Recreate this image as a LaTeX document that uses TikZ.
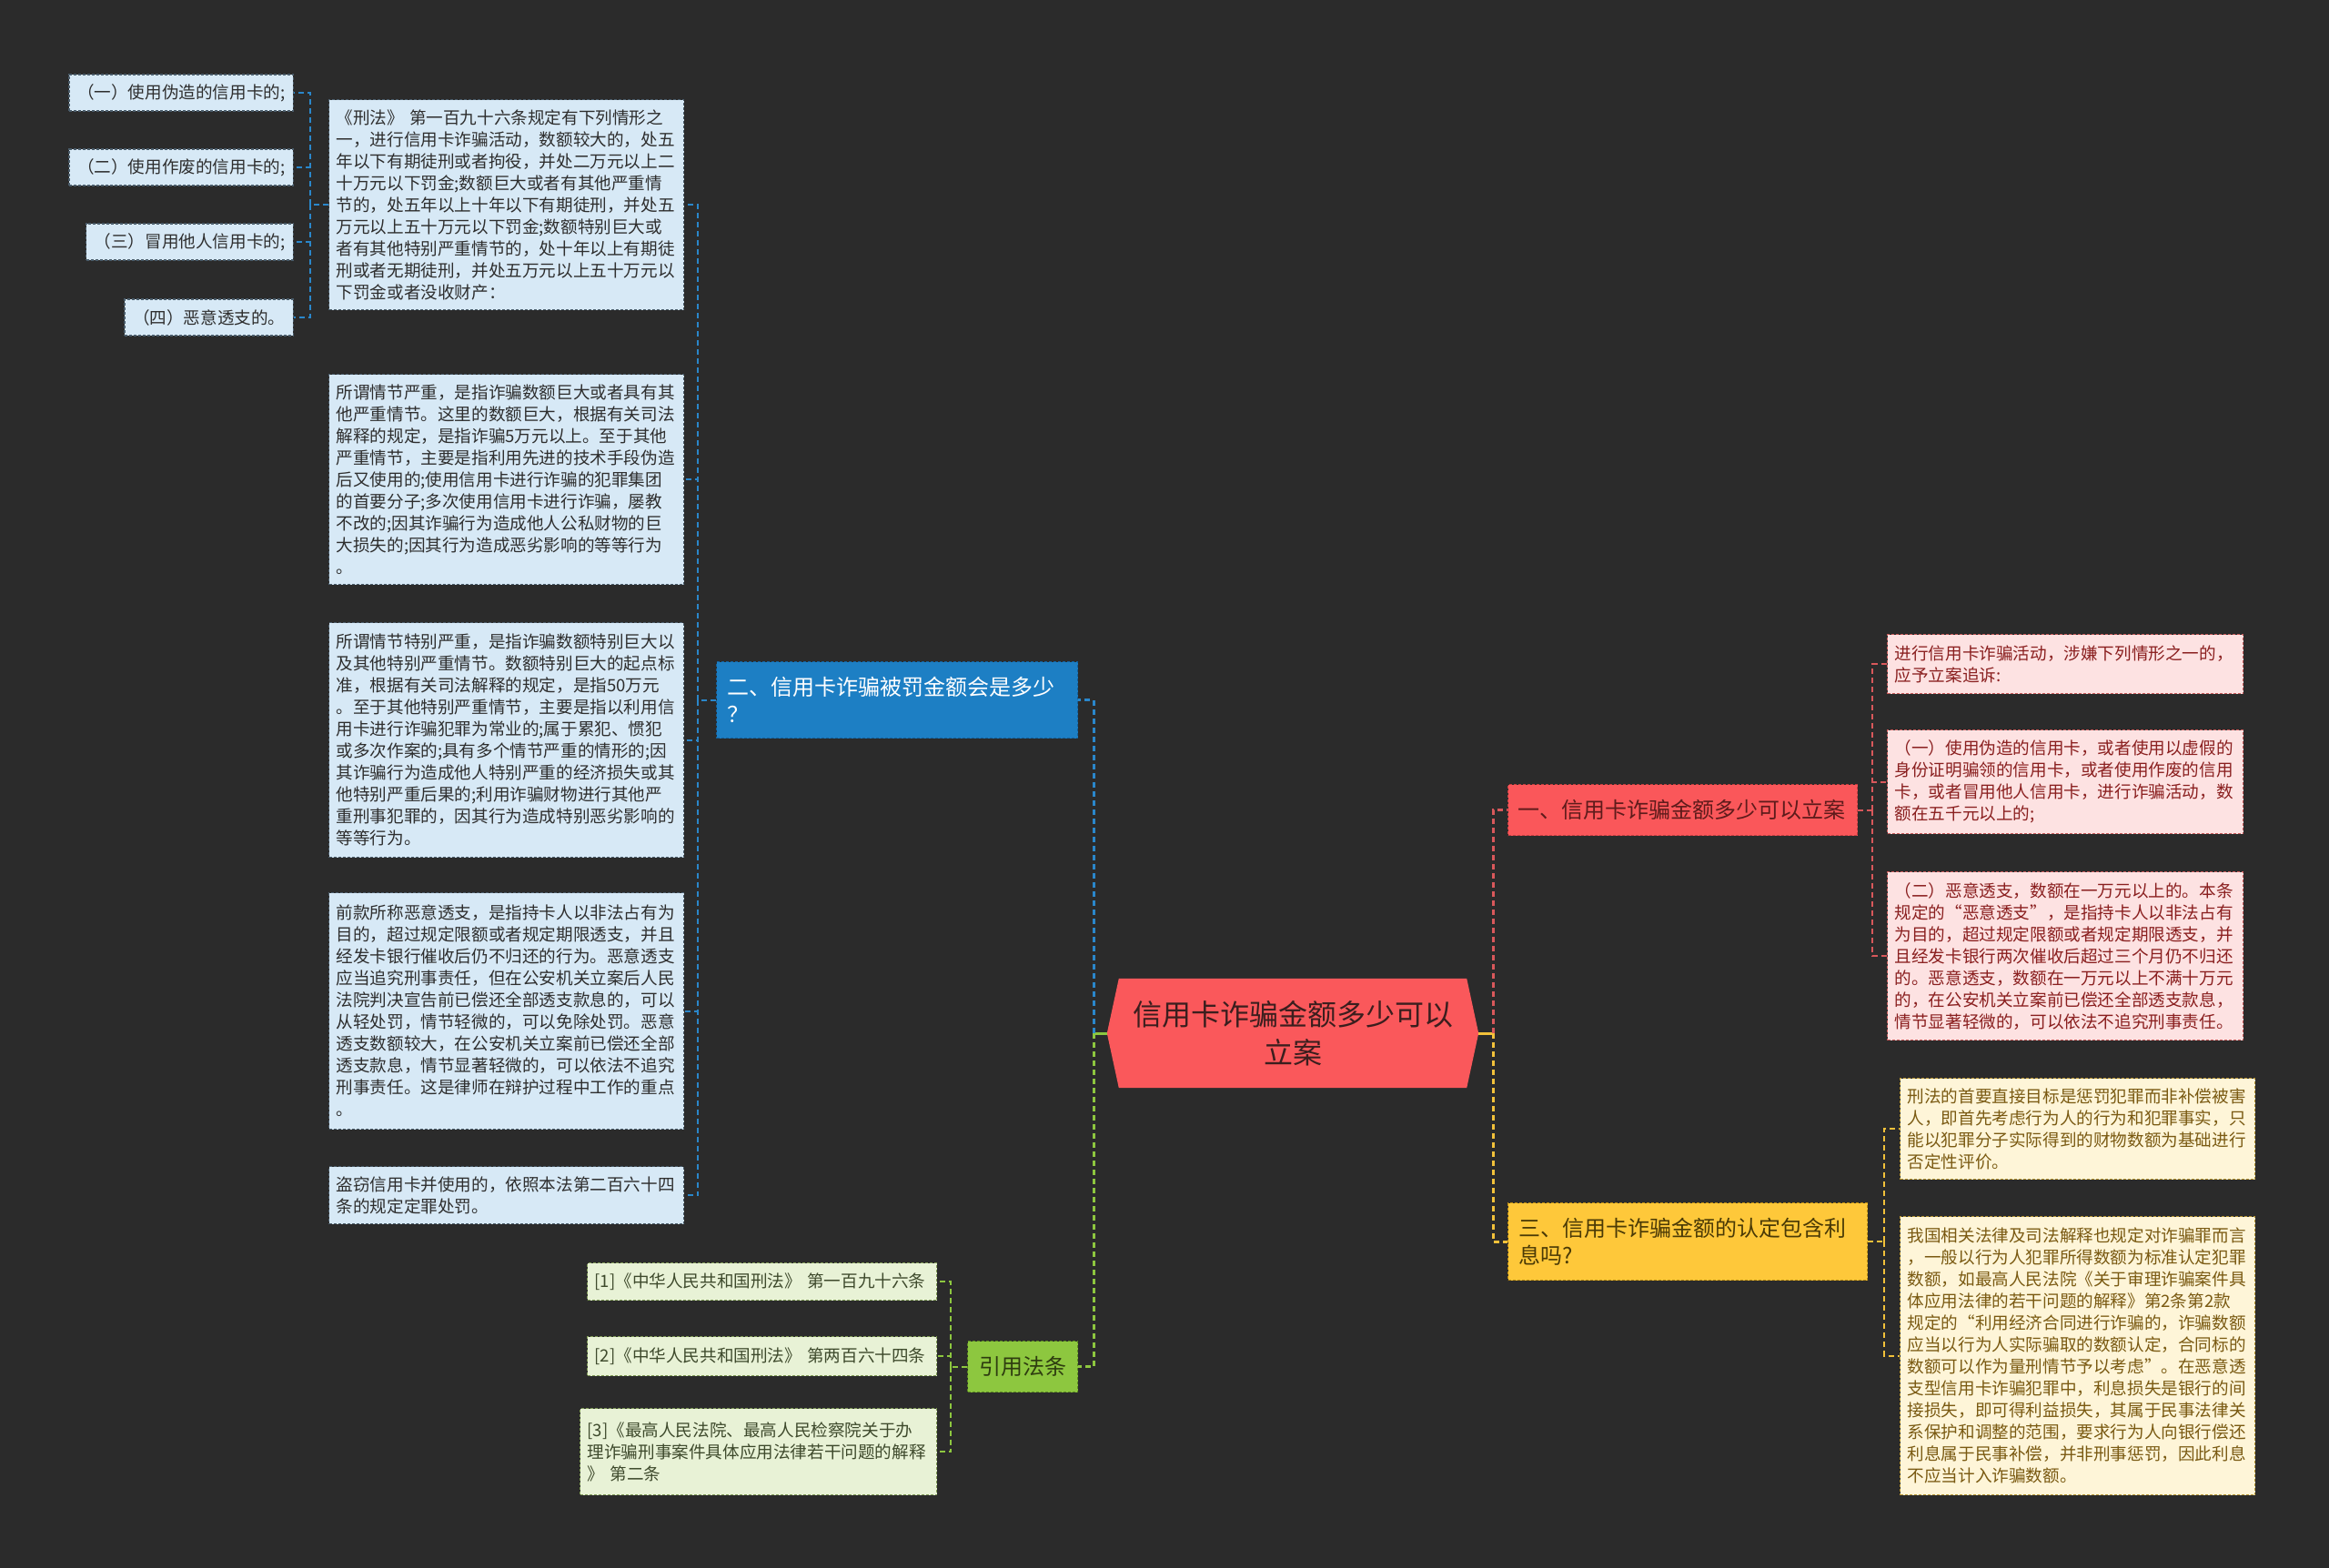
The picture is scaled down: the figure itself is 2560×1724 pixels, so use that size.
\documentclass[tikz,border=0pt]{standalone}
\usepackage{fontspec}
\setmainfont{Noto Sans CJK SC}
\usetikzlibrary{calc}
\pgfdeclarelayer{bg}
\pgfsetlayers{bg,main}
\definecolor{bgc}{HTML}{2B2B2B}
\definecolor{lbfill}{HTML}{D7E9F6}
\definecolor{lbline}{HTML}{4A5C6A}
\definecolor{lbtext}{HTML}{2E2E2E}
\definecolor{pkfill}{HTML}{FDE2E2}
\definecolor{pkline}{HTML}{C85A5A}
\definecolor{pktext}{HTML}{8A1F1F}
\definecolor{crfill}{HTML}{FEF5D8}
\definecolor{crline}{HTML}{B89632}
\definecolor{crtext}{HTML}{7A5A12}
\definecolor{gnfill}{HTML}{E8F2D6}
\definecolor{gnline}{HTML}{7F9A55}
\definecolor{gntext}{HTML}{3E4A2C}
\definecolor{bbfill}{HTML}{1D7FC4}
\definecolor{bbline}{HTML}{15609A}
\definecolor{rbfill}{HTML}{FA575A}
\definecolor{rbline}{HTML}{C43E41}
\definecolor{rbtext}{HTML}{5E1B1B}
\definecolor{ybfill}{HTML}{FEC83A}
\definecolor{ybline}{HTML}{B88A10}
\definecolor{ybtext}{HTML}{4A3A06}
\definecolor{gbfill}{HTML}{8DC73F}
\definecolor{gbline}{HTML}{5C8A22}
\definecolor{gbtext}{HTML}{2E3C10}
\definecolor{cfill}{HTML}{FA585B}
\definecolor{ctext}{HTML}{3B1E1E}
\definecolor{cblue}{HTML}{2A87CB}
\definecolor{cgreen}{HTML}{8DC73F}
\definecolor{cred}{HTML}{D9585B}
\definecolor{cyellow}{HTML}{F2C13A}
\tikzset{
  leaf/.style={font=\fontsize{18.6}{24}\selectfont, align=left, inner xsep=8pt, inner ysep=0pt,
    anchor=north west, line width=1.2pt, dash pattern=on 3pt off 2pt},
  lbbox/.style={leaf, draw=lbline, fill=lbfill, text=lbtext},
  pkbox/.style={leaf, draw=pkline, fill=pkfill, text=pktext},
  crbox/.style={leaf, draw=crline, fill=crfill, text=crtext},
  gnbox/.style={leaf, draw=gnline, fill=gnfill, text=gntext},
  branch/.style={font=\fontsize{24}{30}\selectfont, align=left, inner xsep=12pt, inner ysep=0pt,
    anchor=north west, line width=1.2pt, dash pattern=on 3pt off 2pt},
  trunk/.style={line width=3pt, dash pattern=on 6pt off 4pt},
  brk/.style={line width=2pt, dash pattern=on 6pt off 4pt},
}
\begin{document}
\begin{tikzpicture}[x=1pt,y=-1pt]
\useasboundingbox (0,0) rectangle (2560,1724);

% ---------- central ----------
\node[font=\fontsize{32}{42}\selectfont, text=ctext, align=center, minimum width=408pt,
  minimum height=120pt, inner sep=0pt] (c) at (1421,1136) {信用卡诈骗金额多少可以\\立案};
\begin{pgfonlayer}{bg}
\fill[bgc] (0,0) rectangle (2560,1724);
\fill[cfill] (c.west) -- ([xshift=13pt]c.north west) -- ([xshift=-13pt]c.north east) -- (c.east)
  -- ([xshift=-13pt]c.south east) -- ([xshift=13pt]c.south west) -- cycle;
\end{pgfonlayer}

% ---------- branches ----------
\node[branch, draw=bbline, fill=bbfill, text=white, text width=373pt, minimum height=84pt] (b2) at (787,727)
  {二、信用卡诈骗被罚金额会是多少\\？};
\node[branch, draw=gbline, fill=gbfill, text=gbtext, text width=97pt, minimum height=56pt, align=center] (g) at (1063,1474)
  {引用法条};
\node[branch, draw=rbline, fill=rbfill, text=rbtext, inner xsep=11pt, text width=362pt, minimum height=56pt] (b1) at (1657,862)
  {一、信用卡诈骗金额多少可以立案};
\node[branch, draw=ybline, fill=ybfill, text=ybtext, text width=371pt, minimum height=85pt] (b3) at (1657,1322)
  {三、信用卡诈骗金额的认定包含利\\息吗?};

% ---------- blue branch children ----------
\node[lbbox, text width=374pt, minimum height=231pt] (A) at (361,109)
  {《刑法》 第一百九十六条规定有下列情形之\\
   一，进行信用卡诈骗活动，数额较大的，处五\\
   年以下有期徒刑或者拘役，并处二万元以上二\\
   十万元以下罚金;数额巨大或者有其他严重情\\
   节的，处五年以上十年以下有期徒刑，并处五\\
   万元以上五十万元以下罚金;数额特别巨大或\\
   者有其他特别严重情节的，处十年以上有期徒\\
   刑或者无期徒刑，并处五万元以上五十万元以\\
   下罚金或者没收财产：};
\node[lbbox, text width=374pt, minimum height=231pt] (B) at (361,411)
  {所谓情节严重，是指诈骗数额巨大或者具有其\\
   他严重情节。这里的数额巨大，根据有关司法\\
   解释的规定，是指诈骗5万元以上。至于其他\\
   严重情节，主要是指利用先进的技术手段伪造\\
   后又使用的;使用信用卡进行诈骗的犯罪集团\\
   的首要分子;多次使用信用卡进行诈骗，屡教\\
   不改的;因其诈骗行为造成他人公私财物的巨\\
   大损失的;因其行为造成恶劣影响的等等行为\\
   。};
\node[lbbox, text width=374pt, minimum height=258pt] (C) at (361,684)
  {所谓情节特别严重，是指诈骗数额特别巨大以\\
   及其他特别严重情节。数额特别巨大的起点标\\
   准，根据有关司法解释的规定，是指50万元\\
   。至于其他特别严重情节，主要是指以利用信\\
   用卡进行诈骗犯罪为常业的;属于累犯、惯犯\\
   或多次作案的;具有多个情节严重的情形的;因\\
   其诈骗行为造成他人特别严重的经济损失或其\\
   他特别严重后果的;利用诈骗财物进行其他严\\
   重刑事犯罪的，因其行为造成特别恶劣影响的\\
   等等行为。};
\node[lbbox, text width=374pt, minimum height=260pt] (D) at (361,981)
  {前款所称恶意透支，是指持卡人以非法占有为\\
   目的，超过规定限额或者规定期限透支，并且\\
   经发卡银行催收后仍不归还的行为。恶意透支\\
   应当追究刑事责任，但在公安机关立案后人民\\
   法院判决宣告前已偿还全部透支款息的，可以\\
   从轻处罚，情节轻微的，可以免除处罚。恶意\\
   透支数额较大，在公安机关立案前已偿还全部\\
   透支款息，情节显著轻微的，可以依法不追究\\
   刑事责任。这是律师在辩护过程中工作的重点\\
   。};
\node[lbbox, text width=374pt, minimum height=63pt] (E) at (361,1282)
  {盗窃信用卡并使用的，依照本法第二百六十四\\
   条的规定定罪处罚。};

% ---------- items of A ----------
\node[lbbox, anchor=east, minimum height=40pt, inner xsep=9pt] (s1) at (323,102) {（一）使用伪造的信用卡的;};
\node[lbbox, anchor=east, minimum height=40pt, inner xsep=9pt] (s2) at (323,184) {（二）使用作废的信用卡的;};
\node[lbbox, anchor=east, minimum height=40pt, inner xsep=9pt] (s3) at (323,266) {（三）冒用他人信用卡的;};
\node[lbbox, anchor=east, minimum height=40pt, inner xsep=9pt] (s4) at (323,349) {（四）恶意透支的。};

% ---------- green children ----------
\node[gnbox, text width=368pt, minimum height=41pt] (G1) at (645,1388)
  {[1]《中华人民共和国刑法》 第一百九十六条};
\node[gnbox, text width=368pt, minimum height=43pt] (G2) at (645,1469)
  {[2]《中华人民共和国刑法》 第两百六十四条};
\node[gnbox, text width=376pt, minimum height=95pt] (G3) at (637,1548)
  {[3]《最高人民法院、最高人民检察院关于办\\
   理诈骗刑事案件具体应用法律若干问题的解释\\
   》 第二条};

% ---------- red children ----------
\node[pkbox, text width=375pt, minimum height=65pt] (R1) at (2074,697)
  {进行信用卡诈骗活动，涉嫌下列情形之一的，\\
   应予立案追诉:};
\node[pkbox, text width=375pt, minimum height=114pt] (R2) at (2074,802)
  {（一）使用伪造的信用卡，或者使用以虚假的\\
   身份证明骗领的信用卡，或者使用作废的信用\\
   卡，或者冒用他人信用卡，进行诈骗活动，数\\
   额在五千元以上的;};
\node[pkbox, text width=375pt, minimum height=185pt] (R3) at (2074,958)
  {（二）恶意透支，数额在一万元以上的。本条\\
   规定的“恶意透支”，是指持卡人以非法占有\\
   为目的，超过规定限额或者规定期限透支，并\\
   且经发卡银行两次催收后超过三个月仍不归还\\
   的。恶意透支，数额在一万元以上不满十万元\\
   的，在公安机关立案前已偿还全部透支款息，\\
   情节显著轻微的，可以依法不追究刑事责任。};

% ---------- yellow children ----------
\node[crbox, text width=374pt, minimum height=111pt] (Y1) at (2088,1185)
  {刑法的首要直接目标是惩罚犯罪而非补偿被害\\
   人，即首先考虑行为人的行为和犯罪事实，只\\
   能以犯罪分子实际得到的财物数额为基础进行\\
   否定性评价。};
\node[crbox, text width=374pt, minimum height=306pt] (Y2) at (2088,1337)
  {我国相关法律及司法解释也规定对诈骗罪而言\\
   ，一般以行为人犯罪所得数额为标准认定犯罪\\
   数额，如最高人民法院《关于审理诈骗案件具\\
   体应用法律的若干问题的解释》第2条第2款\\
   规定的“利用经济合同进行诈骗的，诈骗数额\\
   应当以行为人实际骗取的数额认定，合同标的\\
   数额可以作为量刑情节予以考虑”。在恶意透\\
   支型信用卡诈骗犯罪中，利息损失是银行的间\\
   接损失，即可得利益损失，其属于民事法律关\\
   系保护和调整的范围，要求行为人向银行偿还\\
   利息属于民事补偿，并非刑事惩罚，因此利息\\
   不应当计入诈骗数额。};

% ---------- connectors ----------
\coordinate (jl) at (1202,1136);
\coordinate (jr) at (1641,1136);
\draw[line width=3pt, cgreen] (c.west) -- (jl);
\draw[line width=3pt, cyellow] (c.east) -- (jr);
\draw[trunk, cblue] (jl) |- (b2.east);
\draw[trunk, cgreen] (jl) |- (g.east);
\draw[trunk, cred] (jr) |- (b1.west);
\draw[trunk, cyellow] (jr) |- (b3.west);

\coordinate (jb) at ($(b2.west)+(-20,0)$);
\draw[brk, cblue] (b2.west) -- (jb);
\foreach \n in {A,B,C,D,E} \draw[brk, cblue] (jb) |- (\n.east);

\coordinate (ja) at ($(A.west)+(-20,0)$);
\draw[brk, cblue] (A.west) -- (ja);
\foreach \n in {s1,s2,s3,s4} \draw[brk, cblue] (ja) |- (\n.east);

\coordinate (jg) at ($(g.west)+(-18,0)$);
\draw[brk, cgreen] (g.west) -- (jg);
\foreach \n in {G1,G2,G3} \draw[brk, cgreen] (jg) |- (\n.east);

\coordinate (jr1) at ($(b1.east)+(16,0)$);
\draw[brk, cred] (b1.east) -- (jr1);
\foreach \n in {R1,R2,R3} \draw[brk, cred] (jr1) |- (\n.west);

\coordinate (jy) at ($(b3.east)+(18,0)$);
\draw[brk, cyellow] (b3.east) -- (jy);
\foreach \n in {Y1,Y2} \draw[brk, cyellow] (jy) |- (\n.west);
\end{tikzpicture}
\end{document}
